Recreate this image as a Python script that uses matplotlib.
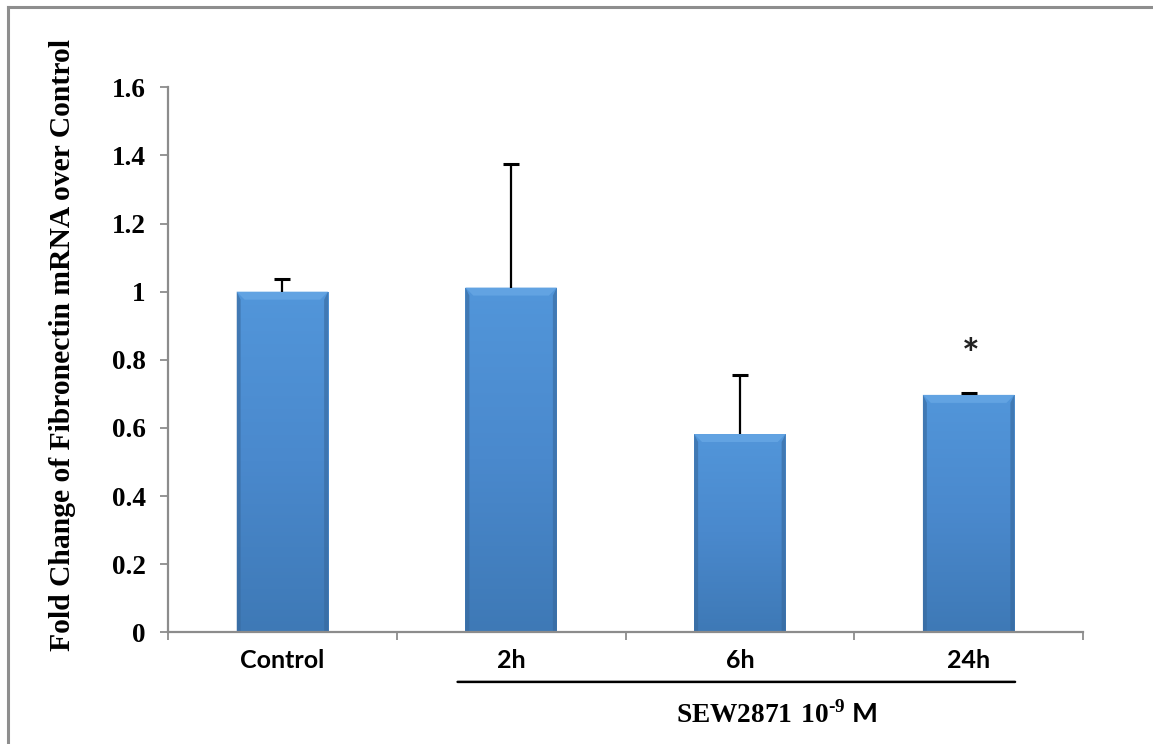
import numpy as np
import matplotlib
matplotlib.use("Agg")
import matplotlib.pyplot as plt
from matplotlib.lines import Line2D
from matplotlib.patches import Polygon
from matplotlib.colors import LinearSegmentedColormap

# ---- data ----
categories = ["Control", "2h", "6h", "24h"]
fold_change = [1.00, 1.012, 0.582, 0.697]
error_up = [0.038, 0.364, 0.174, 0.007]
significant = [False, False, False, True]
y_ticks = [0, 0.2, 0.4, 0.6, 0.8, 1.0, 1.2, 1.4, 1.6]
y_tick_labels = ["0", "0.2", "0.4", "0.6", "0.8", "1", "1.2", "1.4", "1.6"]

plt.rcParams["mathtext.fontset"] = "custom"
plt.rcParams["mathtext.rm"] = "Liberation Serif:bold"
plt.rcParams["mathtext.bf"] = "Liberation Serif:bold"

W, H = 1153, 744
fig = plt.figure(figsize=(W / 100, H / 100), dpi=100)
ax = fig.add_axes([168 / W, 1 - 632.3 / H, (1083 - 168) / W, (632.3 - 87.3) / H])

x = np.arange(len(categories))
bar_w = 0.40
axis_grey = "#8c8c8c"

ax.set_xlim(-0.5, len(categories) - 0.5)
ax.set_ylim(0, 1.6)

bars = ax.bar(x, fold_change, width=bar_w, color="#4a88cc", edgecolor="none", zorder=2)

# vertical shading inside each bar
shade = LinearSegmentedColormap.from_list("shade", ["#3e79b6", "#4a89cd", "#5296da"])
grad = np.linspace(0, 1, 256).reshape(-1, 1)
fig.canvas.draw()
px_to_data_y = 1.6 / ax.get_window_extent().height
px_to_data_x = (len(categories)) / ax.get_window_extent().width
for rect in bars:
    x0, w, h = rect.get_x(), rect.get_width(), rect.get_height()
    im = ax.imshow(grad, extent=(x0, x0 + w, 0, h), origin="lower", cmap=shade,
                   aspect="auto", zorder=2.1)
    im.set_clip_path(rect)
    # bevelled top edge
    bx, by = 8 * px_to_data_x, 8 * px_to_data_y
    ax.add_patch(Polygon([(x0, h), (x0 + w, h), (x0 + w - bx, h - by), (x0 + bx, h - by)],
                         closed=True, facecolor="#62a3e2", edgecolor="none", zorder=2.2))
    # darker sides
    ax.add_patch(Polygon([(x0, h), (x0 + bx * 0.5, h - by), (x0 + bx * 0.5, 0), (x0, 0)],
                         closed=True, facecolor="#37689c", edgecolor="none", alpha=0.6, zorder=2.2))
    ax.add_patch(Polygon([(x0 + w, h), (x0 + w - bx * 0.5, h - by), (x0 + w - bx * 0.5, 0), (x0 + w, 0)],
                         closed=True, facecolor="#37689c", edgecolor="none", alpha=0.6, zorder=2.2))
ax.set_xlim(-0.5, len(categories) - 0.5)
ax.set_ylim(0, 1.6)

# upper error bars only
tops = np.array(fold_change) + np.array(error_up)
ax.vlines(x, fold_change, tops, colors="black", linewidth=1.6, zorder=3)
ax.plot(x, tops, ls="none", marker="_", markersize=11, markeredgewidth=2.2,
        color="black", zorder=3)

# significance marker
for xi, top, sig in zip(x, tops, significant):
    if sig:
        ax.annotate("*", xy=(xi, top), xytext=(1.5, 12), textcoords="offset points",
                    ha="center", va="bottom", fontsize=30, fontweight="bold",
                    family="Lato", color="#222222")

# axes styling
for side in ("top", "right"):
    ax.spines[side].set_visible(False)
for side in ("left", "bottom"):
    ax.spines[side].set_color(axis_grey)
    ax.spines[side].set_linewidth(1.6)

ax.set_yticks(y_ticks)
ax.set_yticklabels(y_tick_labels, family="Liberation Serif", fontweight="bold", fontsize=19.5)
ax.tick_params(axis="y", length=6, width=1.3, color=axis_grey, pad=10)

ax.set_xticks(x)
ax.set_xticklabels(categories, family="Lato", fontweight="bold", fontsize=18)
ax.set_xticks(np.arange(-0.5, len(categories), 1.0), minor=True)
ax.tick_params(axis="x", which="major", length=0, pad=12)
ax.tick_params(axis="x", which="minor", length=6, width=1.3, color=axis_grey)

ax.set_ylabel("Fold Change of Fibronectin mRNA over Control", family="Liberation Serif",
              fontweight="bold", fontsize=21.3)
ax.yaxis.set_label_coords(-0.100, 0.527)

# treatment bracket under 2h–24h
ax.annotate("", xy=(0.766, -0.091), xycoords=("data", "axes fraction"),
            xytext=(3.203, -0.091), textcoords=("data", "axes fraction"),
            arrowprops=dict(arrowstyle="-", lw=1.8, color="black", shrinkA=0, shrinkB=0))
ax.text(2.16, -0.147, r"$\mathbf{SEW2871\ 10}^{\text{-9}}$ M", transform=ax.get_xaxis_transform(),
        ha="center", va="center", fontsize=19.7, family="Lato", fontweight="bold")

# outer frame (left and top edges)
fig.add_artist(Line2D([8 / W, 8 / W], [0, 1 - 7 / H], color="#8e8e8e", lw=2.2,
                      transform=fig.transFigure))
fig.add_artist(Line2D([8 / W, 1], [1 - 7 / H, 1 - 7 / H], color="#8e8e8e", lw=2.2,
                      transform=fig.transFigure))

fig.savefig("out.png", dpi=100)
